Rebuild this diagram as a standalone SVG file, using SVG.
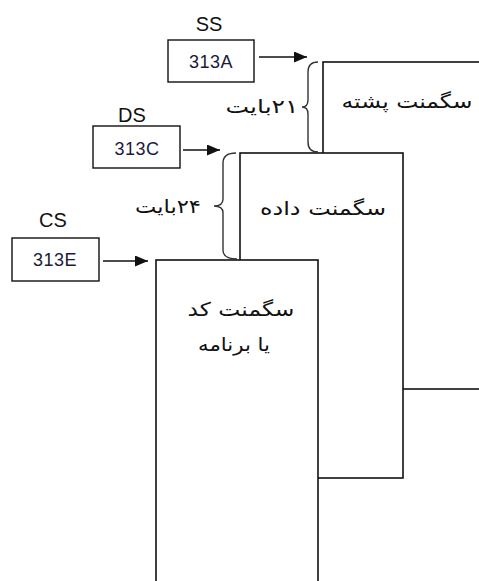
<svg xmlns="http://www.w3.org/2000/svg" width="479" height="581" viewBox="0 0 479 581">
<style>
.seg{fill:#fff;stroke:#111;stroke-width:1.6}
.reg{fill:#fff;stroke:#111;stroke-width:1.4}
.lbl{font-family:"Liberation Sans",Arial,sans-serif;font-size:20px;fill:#111;text-anchor:middle}
.val{font-family:"Liberation Sans",Arial,sans-serif;font-size:18px;fill:#1a1a3a;text-anchor:middle;letter-spacing:0.5px}
.fa{font-family:"DejaVu Sans",sans-serif;font-size:19px;fill:#111;text-anchor:middle}
.con{fill:none;stroke:#111;stroke-width:1.6}
.brace{fill:none;stroke:#333;stroke-width:1.4}
</style>
<defs>
<marker id="ah" markerWidth="13" markerHeight="11" refX="13" refY="5.5" orient="auto" markerUnits="userSpaceOnUse">
<path d="M0,0 L13,5.5 L0,11 Z" fill="#111"/>
</marker>
</defs>
<rect width="479" height="581" fill="#fff"/>
<g id="stack-segment">
<rect class="seg" x="323" y="62" width="170" height="327"/>
<text class="fa" x="407" y="108" direction="rtl" textLength="131" lengthAdjust="spacingAndGlyphs">سگمنت پشته</text>
</g>
<g id="data-segment">
<rect class="seg" x="240" y="153" width="163" height="325"/>
<text class="fa" x="323" y="215" direction="rtl" textLength="126" lengthAdjust="spacingAndGlyphs">سگمنت داده</text>
</g>
<g id="code-segment">
<rect class="seg" x="156" y="260" width="162" height="340"/>
<text class="fa" x="241" y="316" direction="rtl" textLength="107" lengthAdjust="spacingAndGlyphs">سگمنت کد</text>
<text class="fa" x="234" y="351" direction="rtl" textLength="72" lengthAdjust="spacingAndGlyphs">یا برنامه</text>
</g>
<g id="ss-register">
<text class="lbl" x="209" y="31">SS</text>
<rect class="reg" x="168" y="40" width="86" height="42"/>
<text class="val" x="211" y="68">313A</text>
</g>
<g id="ds-register">
<text class="lbl" x="132" y="122">DS</text>
<rect class="reg" x="93" y="126" width="87" height="42"/>
<text class="val" x="137" y="155">313C</text>
</g>
<g id="cs-register">
<text class="lbl" x="53" y="227">CS</text>
<rect class="reg" x="12" y="238" width="87" height="43"/>
<text class="val" x="55" y="266">313E</text>
</g>
<g id="stack-size">
<path class="brace" d="M318,62 Q308,62 308,72 L308,100 Q308,107 302,107 Q308,107 308,114 L308,142 Q308,152 318,152"/>
<text class="fa" x="262" y="113" direction="rtl" textLength="73" lengthAdjust="spacingAndGlyphs">۲۱بایت</text>
</g>
<g id="data-size">
<path class="brace" d="M236,153 Q223,153 223,163 L223,199 Q223,206 214,206 Q223,206 223,213 L223,250 Q223,259 237,259"/>
<text class="fa" x="168" y="213" direction="rtl" textLength="66" lengthAdjust="spacingAndGlyphs">۲۴بایت</text>
</g>
<g id="connectors">
<line class="con" x1="259" y1="57" x2="307" y2="57" marker-end="url(#ah)"/>
<line class="con" x1="183" y1="150" x2="220" y2="150" marker-end="url(#ah)"/>
<line class="con" x1="103" y1="261" x2="148" y2="261" marker-end="url(#ah)"/>
</g>
</svg>
